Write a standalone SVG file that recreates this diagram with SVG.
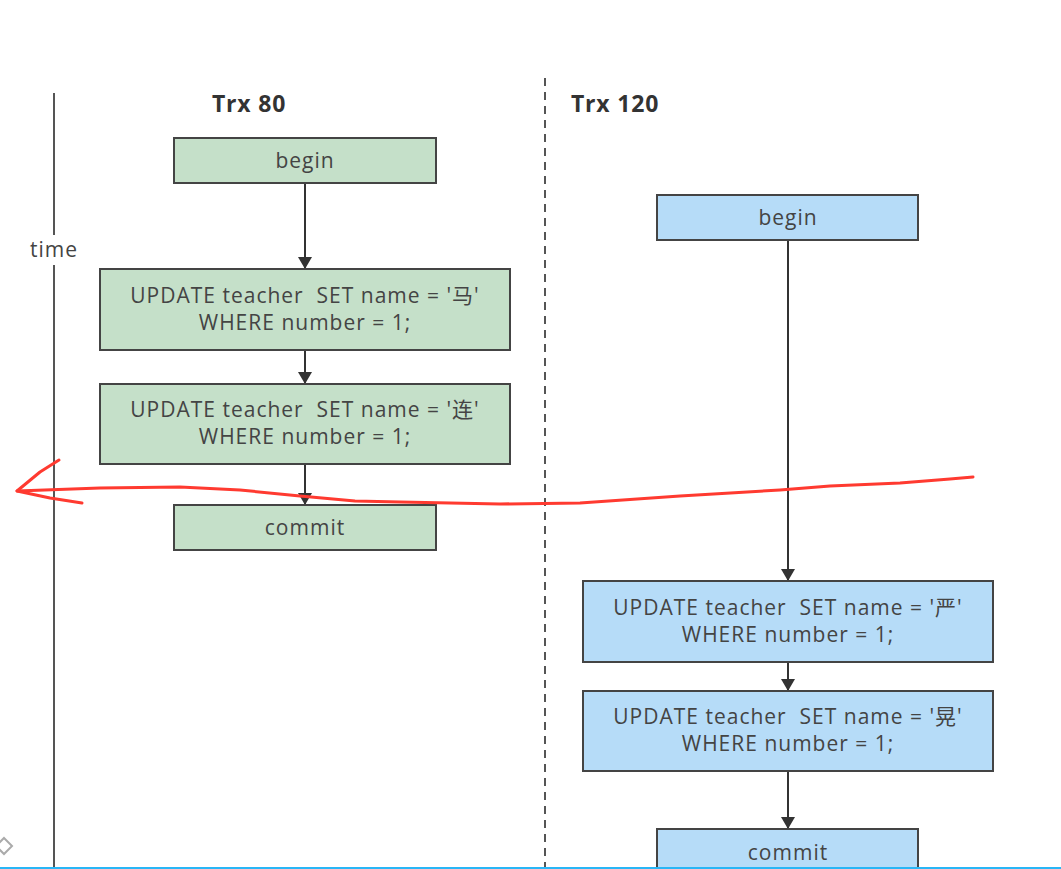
<svg xmlns="http://www.w3.org/2000/svg" width="1061" height="869" viewBox="0 0 1061 869">
<defs>
<marker id="ah" viewBox="0 0 12 14" refX="12" refY="7" markerWidth="12" markerHeight="14" markerUnits="userSpaceOnUse" orient="auto">
<path d="M0,0 L12,7 L0,14 Z" fill="#333"/>
</marker>
<style>
.g{fill:#c5e0c9;stroke:#444;stroke-width:2}
.b{fill:#b6dcf8;stroke:#444;stroke-width:2}
.t{font-family:"Open Sans","Noto Sans","Noto Sans CJK SC",sans-serif;font-size:21px;letter-spacing:1px;fill:#444;text-anchor:middle;white-space:pre}
.h{font-family:"Open Sans","Noto Sans",sans-serif;font-size:23px;letter-spacing:0.8px;font-weight:bold;fill:#333}
.c{stroke:#333;stroke-width:2;fill:none;marker-end:url(#ah)}
</style>
</defs>
<rect width="1061" height="869" fill="#fff"/>
<g id="time-axis">
<line x1="54" y1="93" x2="54" y2="235" stroke="#555" stroke-width="2"/>
<line x1="54" y1="265" x2="54" y2="869" stroke="#555" stroke-width="2"/>
<text x="54" y="257" class="t">time</text>
</g>
<g id="divider">
<line x1="545" y1="78" x2="545" y2="869" stroke="#555" stroke-width="2" stroke-dasharray="8,6"/>
</g>
<g id="trx80-title"><text x="212" y="112" class="h">Trx 80</text></g>
<g id="trx120-title"><text x="571" y="112" class="h">Trx 120</text></g>
<g id="connectors">
<line x1="305" y1="183" x2="305" y2="269" class="c"/>
<line x1="305" y1="350" x2="305" y2="384" class="c"/>
<line x1="305" y1="464" x2="305" y2="505" class="c"/>
<line x1="788" y1="240" x2="788" y2="581" class="c"/>
<line x1="788" y1="662" x2="788" y2="691" class="c"/>
<line x1="788" y1="771" x2="788" y2="829" class="c"/>
</g>
<g id="a-begin"><rect x="174" y="138" width="262" height="45" class="g"/><text x="305" y="168" class="t">begin</text></g>
<g id="a-update1"><rect x="100" y="269" width="410" height="81" class="g"/><text x="305" y="303" class="t" xml:space="preserve">UPDATE teacher  SET name = '马'</text><text x="305" y="330" class="t">WHERE number = 1;</text></g>
<g id="a-update2"><rect x="100" y="384" width="410" height="80" class="g"/><text x="305" y="417" class="t" xml:space="preserve">UPDATE teacher  SET name = '连'</text><text x="305" y="444" class="t">WHERE number = 1;</text></g>
<g id="a-commit"><rect x="174" y="505" width="262" height="45" class="g"/><text x="305" y="535" class="t">commit</text></g>
<g id="b-begin"><rect x="657" y="195" width="261" height="45" class="b"/><text x="788" y="225" class="t">begin</text></g>
<g id="b-update1"><rect x="583" y="581" width="410" height="81" class="b"/><text x="788" y="615" class="t" xml:space="preserve">UPDATE teacher  SET name = '严'</text><text x="788" y="642" class="t">WHERE number = 1;</text></g>
<g id="b-update2"><rect x="583" y="691" width="410" height="80" class="b"/><text x="788" y="724" class="t" xml:space="preserve">UPDATE teacher  SET name = '晃'</text><text x="788" y="751" class="t">WHERE number = 1;</text></g>
<g id="b-commit"><rect x="657" y="829" width="261" height="50" class="b"/><text x="788" y="860" class="t">commit</text></g>
<g id="red-arrow" fill="none" stroke="#ff3a30" stroke-width="3" stroke-linecap="round" stroke-linejoin="round">
<path d="M973,477 L950,479 L900,483 L830,486 L780,490 L680,496 L580,503 L500,504 L400,502 L355,501 L300,496 L240,490 L180,487 L100,488 L17,491"/>
<path d="M59,460 L40,472 L17,491 L50,498 L82,503"/>
</g>
<g id="artifacts">
<path d="M4,838 L12,846 L4,854 L-4,846 Z" fill="none" stroke="#aaa" stroke-width="2"/>
<line x1="0" y1="868" x2="1061" y2="868" stroke="#29b6f6" stroke-width="2"/>
</g>
</svg>
